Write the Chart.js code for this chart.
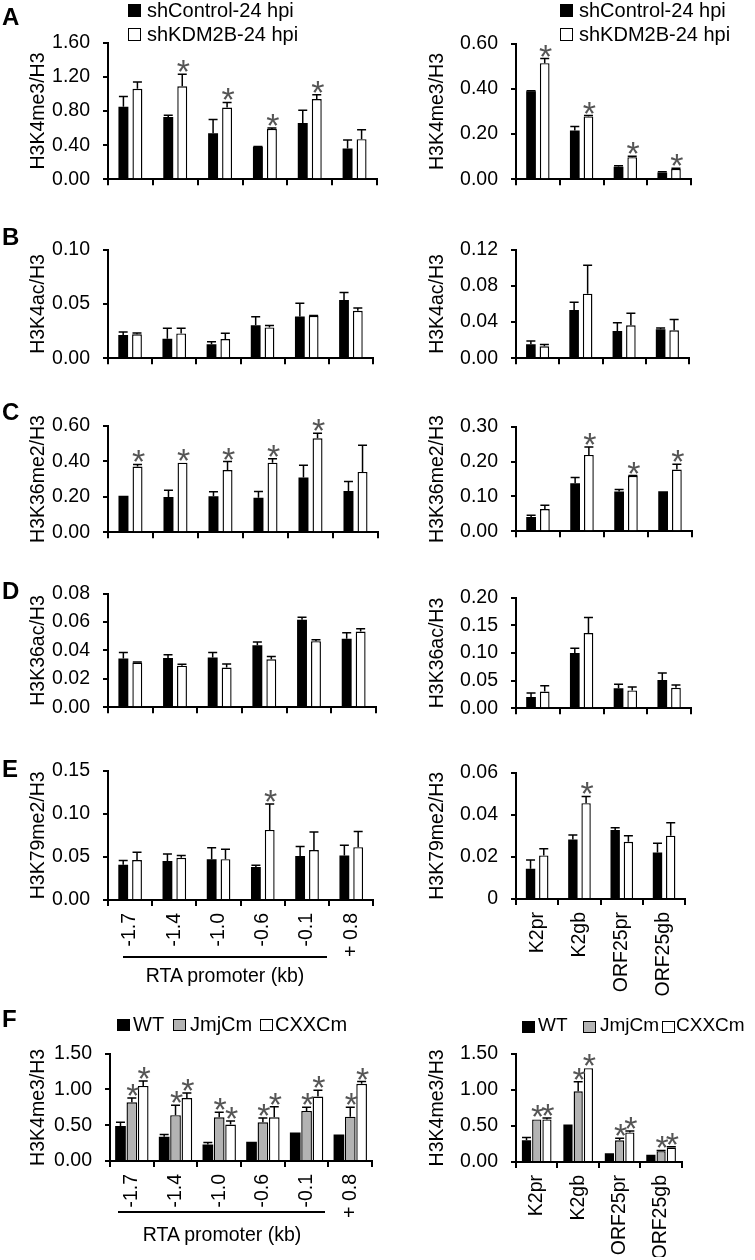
<!DOCTYPE html>
<html>
<head>
<meta charset="utf-8">
<script src="https://cdn.jsdelivr.net/npm/chart.js@4.4.1/dist/chart.umd.min.js"></script>
<style>
  body { margin: 0; background: #fff; }
  #fig { position: relative; width: 755px; height: 1260px; overflow: hidden;
         font-family: "Liberation Sans", Arial, sans-serif; color: #000; }
  #fig canvas { position: absolute; }
  .txt { position: absolute; white-space: nowrap; font-size: 20px; line-height: 22px; }
  .axtxt { position: absolute; white-space: nowrap; font-size: 19.5px; line-height: 19px; transform: translateX(-50%); }
  .letter { position: absolute; font-weight: bold; font-size: 24px; line-height: 24px; }
  .sq { position: absolute; width: 13px; height: 13px; box-sizing: border-box; border: 1.5px solid #000; }
  .line { position: absolute; height: 2px; background: #000; }
</style>
</head>
<body>
<div id="fig"></div>
<script>
// categories
const rtaSites = ['-1.7', '-1.4', '-1.0', '-0.6', '-0.1', '+ 0.8'];
const lociNames = ['K2pr', 'K2gb', 'ORF25pr', 'ORF25gb'];
const shLabels = ['shControl-24 hpi', 'shKDM2B-24 hpi'];
const mutLabels = ['WT', 'JmjCm', 'CXXCm'];
const yTitles = ['H3K4me3/H3', 'H3K4ac/H3', 'H3K36me2/H3', 'H3K36ac/H3', 'H3K79me2/H3', 'H3K4me3/H3'];

// A: H3K4me3
const aRtaCtrl = [0.85, 0.73, 0.54, 0.38, 0.66, 0.36];
const aRtaCtrlErr = [0.12, 0.02, 0.16, 0.005, 0.15, 0.10];
const aRtaKd = [1.06, 1.09, 0.84, 0.59, 0.94, 0.47];
const aRtaKdErr = [0.08, 0.14, 0.06, 0.01, 0.05, 0.11];
const aRtaSig = [0, 1, 1, 1, 1, 0];
const aRtaTicks = ['0.00', '0.40', '0.80', '1.20', '1.60'];
const aLocCtrl = [0.39, 0.216, 0.056, 0.03];
const aLocCtrlErr = [0.002, 0.018, 0.004, 0.003];
const aLocKd = [0.514, 0.278, 0.098, 0.046];
const aLocKdErr = [0.02, 0.004, 0.004, 0.003];
const aLocSig = [1, 1, 1, 1];
const aLocTicks = ['0.00', '0.20', '0.40', '0.60'];

// B: H3K4ac
const bRtaCtrl = [0.0214, 0.0179, 0.0129, 0.0304, 0.0386, 0.0537];
const bRtaCtrlErr = [0.0028, 0.0097, 0.0023, 0.0079, 0.0121, 0.007];
const bRtaKd = [0.0221, 0.0229, 0.0177, 0.0284, 0.039, 0.0438];
const bRtaKdErr = [0.0012, 0.0047, 0.0053, 0.0017, 0.0005, 0.0025];
const bRtaTicks = ['0.00', '0.05', '0.10'];
const bLocCtrl = [0.0155, 0.0535, 0.0302, 0.032];
const bLocCtrlErr = [0.0036, 0.0083, 0.0092, 0.0015];
const bLocKd = [0.0132, 0.0714, 0.0364, 0.031];
const bLocKdErr = [0.002, 0.0313, 0.0135, 0.012];
const bLocTicks = ['0.00', '0.04', '0.08', '0.12'];

// C: H3K36me2
const cRtaCtrl = [0.206, 0.199, 0.203, 0.194, 0.309, 0.233];
const cRtaCtrlErr = [0, 0.037, 0.025, 0.035, 0.068, 0.053];
const cRtaKd = [0.37, 0.392, 0.35, 0.392, 0.529, 0.34];
const cRtaKdErr = [0.012, 0, 0.048, 0.022, 0.029, 0.15];
const cRtaSig = [1, 1, 1, 1, 1, 0];
const cRtaTicks = ['0.00', '0.20', '0.40', '0.60'];
const cLocCtrl = [0.041, 0.138, 0.114, 0.115];
const cLocCtrlErr = [0.005, 0.016, 0.006, 0];
const cLocKd = [0.064, 0.219, 0.159, 0.177];
const cLocKdErr = [0.011, 0.023, 0.001, 0.015];
const cLocSig = [0, 1, 1, 1];
const cLocTicks = ['0.00', '0.10', '0.20', '0.30'];

// D: H3K36ac
const dRtaCtrl = [0.0344, 0.0347, 0.0351, 0.0437, 0.0616, 0.0482];
const dRtaCtrlErr = [0.0042, 0.0023, 0.0035, 0.0022, 0.0019, 0.0043];
const dRtaKd = [0.0315, 0.0293, 0.028, 0.0338, 0.0466, 0.0533];
const dRtaKdErr = [0.0004, 0.001, 0.0025, 0.0019, 0.001, 0.0021];
const dRtaTicks = ['0.00', '0.02', '0.04', '0.06', '0.08'];
const dLocCtrl = [0.0206, 0.100, 0.0363, 0.051];
const dLocCtrlErr = [0.0069, 0.0088, 0.0074, 0.013];
const dLocKd = [0.0304, 0.136, 0.0324, 0.0372];
const dLocKdErr = [0.0106, 0.028, 0.0063, 0.005];
const dLocTicks = ['0.00', '0.05', '0.10', '0.15', '0.20'];

// E: H3K79me2
const eRtaCtrl = [0.041, 0.0453, 0.0474, 0.0382, 0.051, 0.0517];
const eRtaCtrlErr = [0.0047, 0.0082, 0.0133, 0.0021, 0.011, 0.0117];
const eRtaKd = [0.0463, 0.0489, 0.0474, 0.0813, 0.058, 0.0613];
const eRtaKdErr = [0.009, 0.0028, 0.0115, 0.030, 0.021, 0.0182];
const eRtaSig = [0, 0, 0, 1, 0, 0];
const eRtaTicks = ['0.00', '0.05', '0.10', '0.15'];
const eLocCtrl = [0.0144, 0.0283, 0.0328, 0.0221];
const eLocCtrlErr = [0.0041, 0.0021, 0.001, 0.0044];
const eLocKd = [0.0207, 0.0455, 0.0272, 0.0301];
const eLocKdErr = [0.0032, 0.0032, 0.0029, 0.0061];
const eLocSig = [0, 1, 0, 0];
const eLocTicks = ['0', '0.02', '0.04', '0.06'];

// F: H3K4me3 with KDM2B mutants
const fRtaWt = [0.49, 0.34, 0.23, 0.27, 0.40, 0.37];
const fRtaWtErr = [0.05, 0.03, 0.03, 0, 0, 0];
const fRtaJmj = [0.82, 0.64, 0.61, 0.54, 0.70, 0.62];
const fRtaJmjErr = [0.06, 0.14, 0.07, 0.06, 0.05, 0.13];
const fRtaCxxc = [1.05, 0.88, 0.51, 0.61, 0.90, 1.08];
const fRtaCxxcErr = [0.07, 0.07, 0.05, 0.15, 0.09, 0.03];
const fRtaSig = [1, 1, 1, 1, 1, 1];
const fLocWt = [0.30, 0.52, 0.12, 0.10];
const fLocWtErr = [0.04, 0, 0, 0];
const fLocJmj = [0.59, 0.98, 0.30, 0.15];
const fLocJmjErr = [0, 0.13, 0.03, 0.01];
const fLocCxxc = [0.59, 1.30, 0.41, 0.20];
const fLocCxxcErr = [0.02, 0, 0.02, 0.01];
const fLocSig = [1, 1, 1, 1];
const fTicks = ['0.00', '0.50', '1.00', '1.50'];

const none6 = [0, 0, 0, 0, 0, 0];
const none4 = [0, 0, 0, 0];

const FONT = '"Liberation Sans", Arial, sans-serif';
Chart.defaults.font.family = FONT;
Chart.defaults.color = '#000';

const fig = document.getElementById('fig');

function addEl(cls, css, text) {
  const el = document.createElement('div');
  el.className = cls;
  Object.assign(el.style, css);
  if (text) el.textContent = text;
  fig.appendChild(el);
  return el;
}

// error bars (upper only) and significance stars
const errorBars = {
  id: 'errorBars',
  afterDatasetsDraw(chart) {
    const ctx = chart.ctx;
    const y = chart.scales.y;
    chart.data.datasets.forEach((ds, i) => {
      chart.getDatasetMeta(i).data.forEach((bar, j) => {
        const top = y.getPixelForValue(ds.data[j] + ds.errors[j]);
        ctx.save();
        ctx.strokeStyle = '#000';
        ctx.lineWidth = 1.5;
        if (ds.errors[j] > 0) {
          ctx.beginPath();
          ctx.moveTo(bar.x, bar.y);
          ctx.lineTo(bar.x, top);
          ctx.moveTo(bar.x - 4.5, top);
          ctx.lineTo(bar.x + 4.5, top);
          ctx.stroke();
        }
        if (ds.sig[j]) {
          ctx.font = '34px ' + FONT;
          ctx.fillStyle = '#555';
          ctx.textAlign = 'center';
          ctx.textBaseline = 'alphabetic';
          ctx.fillText('*', bar.x + 1, top + 9);
        }
        ctx.restore();
      });
    });
  }
};

function barSet(values, errors, sig, fill, catPct, barPct) {
  return {
    data: values, errors: errors, sig: sig,
    backgroundColor: fill, borderColor: '#000',
    borderWidth: fill === '#000' ? 0 : 1.4,
    borderSkipped: 'start',
    categoryPercentage: catPct, barPercentage: barPct
  };
}

function makePanel(p) {
  const canvasLeft = p.axisX < 380 ? 0 : 380;
  const yW = p.axisX - canvasLeft;
  const padTop = 14, padRight = 4;
  const w = yW + (p.right - p.axisX) + padRight;
  const h = padTop + (p.zero - p.top) + p.xH;
  const cv = document.createElement('canvas');
  cv.width = w;
  cv.height = h;
  cv.style.left = canvasLeft + 'px';
  cv.style.top = (p.top - padTop) + 'px';
  fig.appendChild(cv);
  const tickVals = p.ticks.map(parseFloat);

  new Chart(cv, {
    type: 'bar',
    data: { labels: p.labels, datasets: p.sets },
    options: {
      responsive: false,
      animation: false,
      layout: { padding: { top: padTop, right: padRight, left: 0, bottom: 0 } },
      plugins: { legend: { display: false }, tooltip: { enabled: false } },
      scales: {
        x: {
          type: 'category',
          offset: true,
          grid: { offset: true, drawOnChartArea: false, tickLength: 6, color: '#000', lineWidth: 2 },
          border: { color: '#000', width: 2 },
          ticks: {
            display: p.showX, autoSkip: false, minRotation: 90, maxRotation: 90,
            padding: 7, color: '#000', font: { size: 19.5 }
          },
          afterFit: s => { s.height = p.xH; }
        },
        y: {
          min: 0,
          max: tickVals[tickVals.length - 1],
          afterBuildTicks: s => { s.ticks = tickVals.map(v => ({ value: v })); },
          grid: { drawOnChartArea: false, tickLength: 5, color: '#000', lineWidth: 2 },
          border: { color: '#000', width: 2 },
          ticks: { padding: 13, color: '#000', font: { size: 19.5 }, callback: (v, i) => p.ticks[i] },
          title: {
            display: true, text: p.title, color: '#000', font: { size: 19.5 },
            padding: { top: p.titleX - canvasLeft - 11.7, bottom: 0 }
          },
          afterFit: s => { s.width = yW; }
        }
      }
    },
    plugins: [errorBars]
  });
}

const two = (c, ce, k, ke, sig, n) => [
  barSet(c, ce, n === 6 ? none6 : none4, '#000', 0.625, 0.71),
  barSet(k, ke, sig, '#fff', 0.625, 0.71)
];

// rows A-E, left (RTA promoter) and right (loci)
makePanel({ axisX: 108, top: 32, zero: 194, right: 377, titleX: 39, xH: 10, labels: rtaSites, showX: false,
  ticks: aRtaTicks, title: yTitles[0], sets: two(aRtaCtrl, aRtaCtrlErr, aRtaKd, aRtaKdErr, aRtaSig, 6) });
makePanel({ axisX: 516, top: 33, zero: 194, right: 691, titleX: 438, xH: 10, labels: lociNames, showX: false,
  ticks: aLocTicks, title: yTitles[0], sets: two(aLocCtrl, aLocCtrlErr, aLocKd, aLocKdErr, aLocSig, 4) });

makePanel({ axisX: 108, top: 239, zero: 373, right: 373, titleX: 39, xH: 10, labels: rtaSites, showX: false,
  ticks: bRtaTicks, title: yTitles[1], sets: two(bRtaCtrl, bRtaCtrlErr, bRtaKd, bRtaKdErr, none6, 6) });
makePanel({ axisX: 516, top: 239, zero: 373, right: 689, titleX: 438, xH: 10, labels: lociNames, showX: false,
  ticks: bLocTicks, title: yTitles[1], sets: two(bLocCtrl, bLocCtrlErr, bLocKd, bLocKdErr, none4, 4) });

makePanel({ axisX: 108, top: 415, zero: 547, right: 378, titleX: 39, xH: 10, labels: rtaSites, showX: false,
  ticks: cRtaTicks, title: yTitles[2], sets: two(cRtaCtrl, cRtaCtrlErr, cRtaKd, cRtaKdErr, cRtaSig, 6) });
makePanel({ axisX: 516, top: 416, zero: 546, right: 692, titleX: 438, xH: 10, labels: lociNames, showX: false,
  ticks: cLocTicks, title: yTitles[2], sets: two(cLocCtrl, cLocCtrlErr, cLocKd, cLocKdErr, cLocSig, 4) });

makePanel({ axisX: 108, top: 583, zero: 722, right: 376, titleX: 39, xH: 10, labels: rtaSites, showX: false,
  ticks: dRtaTicks, title: yTitles[3], sets: two(dRtaCtrl, dRtaCtrlErr, dRtaKd, dRtaKdErr, none6, 6) });
makePanel({ axisX: 516, top: 587, zero: 723, right: 691, titleX: 438, xH: 10, labels: lociNames, showX: false,
  ticks: dLocTicks, title: yTitles[3], sets: two(dLocCtrl, dLocCtrlErr, dLocKd, dLocKdErr, none4, 4) });

makePanel({ axisX: 108, top: 760, zero: 900, right: 378, titleX: 39, xH: 105, labels: rtaSites, showX: true,
  ticks: eRtaTicks, title: yTitles[4], sets: two(eRtaCtrl, eRtaCtrlErr, eRtaKd, eRtaKdErr, eRtaSig, 6) });
makePanel({ axisX: 516, top: 762, zero: 899, right: 691, titleX: 438, xH: 105, labels: lociNames, showX: true,
  ticks: eLocTicks, title: yTitles[4], sets: two(eLocCtrl, eLocCtrlErr, eLocKd, eLocKdErr, eLocSig, 4) });

// row F, three mutants
makePanel({ axisX: 110, top: 1043, zero: 1161, right: 377, titleX: 39, xH: 95, labels: rtaSites, showX: true,
  ticks: fTicks, title: yTitles[5], sets: [
    barSet(fRtaWt, fRtaWtErr, none6, '#000', 0.78, 0.94),
    barSet(fRtaJmj, fRtaJmjErr, fRtaSig, '#b3b3b3', 0.78, 0.94),
    barSet(fRtaCxxc, fRtaCxxcErr, fRtaSig, '#fff', 0.78, 0.94)
  ] });
makePanel({ axisX: 516, top: 1043, zero: 1162, right: 688, titleX: 438, xH: 95, labels: lociNames, showX: true,
  ticks: fTicks, title: yTitles[5], sets: [
    barSet(fLocWt, fLocWtErr, none4, '#000', 0.74, 0.9),
    barSet(fLocJmj, fLocJmjErr, fLocSig, '#b3b3b3', 0.74, 0.9),
    barSet(fLocCxxc, fLocCxxcErr, fLocSig, '#fff', 0.74, 0.9)
  ] });

// panel letters
[['A', 5], ['B', 225], ['C', 400], ['D', 579], ['E', 757], ['F', 1007]].forEach(([t, y]) => {
  addEl('letter', { left: '2px', top: y + 'px' }, t);
});

// legends for rows A
[128, 560].forEach(x => {
  addEl('sq', { left: x + 'px', top: '4px', background: '#000' });
  addEl('txt', { left: (x + 19) + 'px', top: '-1px' }, shLabels[0]);
  addEl('sq', { left: x + 'px', top: '28px', background: '#fff' });
  addEl('txt', { left: (x + 19) + 'px', top: '23px' }, shLabels[1]);
});

// legends for row F
const fillsF = ['#000', '#b3b3b3', '#fff'];
[[117, 133, 173, 190, 260, 275, 1019, 1013, 20], [522, 538, 583, 600, 662, 676, 1021, 1014, 19]].forEach(pos => {
  for (let k = 0; k < 3; k++) {
    addEl('sq', { left: pos[k * 2] + 'px', top: pos[6] + 'px', height: '12px', background: fillsF[k] });
    addEl('txt', { left: pos[k * 2 + 1] + 'px', top: pos[7] + 'px', fontSize: pos[8] + 'px' }, mutLabels[k]);
  }
});

// RTA promoter brackets
addEl('line', { left: '123px', top: '956px', width: '204px' });
addEl('axtxt', { left: '225px', top: '966px' }, 'RTA promoter (kb)');
addEl('line', { left: '118px', top: '1211px', width: '207px' });
addEl('axtxt', { left: '222px', top: '1225px' }, 'RTA promoter (kb)');
</script>
</body>
</html>
